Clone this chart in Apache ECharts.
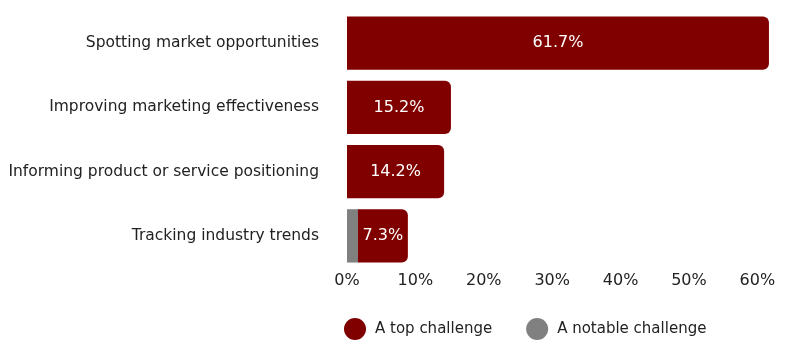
<!DOCTYPE html>
<html lang="en">

<head>
    <meta charset="UTF-8">
    <script src="https://cdn.jsdelivr.net/npm/echarts@6/dist/echarts.min.js"></script>
    <title>Challenges</title>
    <style>
        body { margin: 0; background: #fff; }
        #main { width: 800px; height: 354px; }
    </style>
</head>

<body>
    <div id="main"></div>
    <script>
        // categories listed bottom to top (category axis on y runs upward)
        var categories = [
            'Tracking industry trends',
            'Informing product or service positioning',
            'Improving marketing effectiveness',
            'Spotting market opportunities'
        ];
        var notableChallenge = [1.6, 0, 0, 0];
        var topChallenge = [7.3, 14.2, 15.2, 61.7];
        var xTicks = [0, 10, 20, 30, 40, 50, 60];

        var font = '"DejaVu Sans", sans-serif';
        var myChart = echarts.init(document.getElementById('main'));

        var option = {
            textStyle: { fontFamily: font },
            animation: false,
            grid: {
                left: 347,
                right: 29,
                top: 11,
                bottom: 86,
                outerBoundsMode: 'none'
            },
            legend: {
                bottom: 9,
                left: 339,
                itemGap: 34,
                icon: 'circle',
                itemWidth: 22,
                itemHeight: 22,
                textStyle: { fontSize: 15, color: '#222', fontFamily: font, padding: [0, 0, 0, 4] },
                data: ['A top challenge', 'A notable challenge']
            },
            xAxis: {
                type: 'value',
                min: 0,
                max: 62,
                interval: 10,
                splitLine: { show: false },
                axisLine: { show: false },
                axisTick: { show: false },
                axisLabel: {
                    fontSize: 16,
                    color: '#222',
                    margin: 5,
                    showMaxLabel: false,
                    formatter: function (v) {
                        return xTicks.indexOf(v) >= 0 ? v + '%' : '';
                    }
                }
            },
            yAxis: {
                type: 'category',
                data: categories,
                axisLine: { show: false },
                axisTick: { show: false },
                axisLabel: { fontSize: 15.5, color: '#222', margin: 28 }
            },
            series: [{
                    name: 'A notable challenge',
                    type: 'bar',
                    stack: 'total',
                    barCategoryGap: '17%',
                    itemStyle: { color: '#808080' },
                    data: notableChallenge
                },
                {
                    name: 'A top challenge',
                    type: 'bar',
                    stack: 'total',
                    barCategoryGap: '17%',
                    itemStyle: { color: '#800000', borderRadius: [0, 6, 6, 0] },
                    label: {
                        show: true,
                        position: 'inside',
                        color: '#fff',
                        fontSize: 16,
                        formatter: function (p) { return p.value + '%'; }
                    },
                    data: topChallenge
                }
            ]
        };

        myChart.setOption(option);
    </script>
</body>

</html>
